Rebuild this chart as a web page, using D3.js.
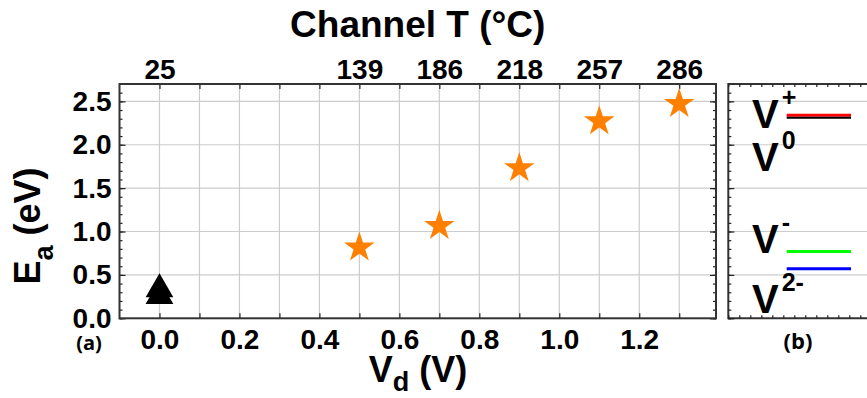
<!DOCTYPE html>
<html>
<head>
<meta charset="utf-8">
<script src="https://cdn.jsdelivr.net/npm/d3@7"></script>
<style>
  body { margin: 0; background: #fff; }
  svg { display: block; font-family: "Liberation Sans", Arial, sans-serif; font-weight: bold; }
</style>
</head>
<body>
<svg id="chart" width="867" height="398"></svg>
<script>
// panel (a): activation energy vs drain voltage
const vd_star = [0.5, 0.7, 0.9, 1.1, 1.3];
const ea_star = [0.815, 1.065, 1.73, 2.27, 2.47];
const vd_tri = [0.0, 0.0];
const ea_tri = [0.335, 0.257];

// top axis: channel temperature at each Vd
const temp_at = [0.0, 0.5, 0.7, 0.9, 1.1, 1.3];
const temp_labels = ['25', '139', '186', '218', '257', '286'];

// panel (b): defect levels
const level_e = [2.34, 2.31, 0.77, 0.57];
const level_color = ['#ff0000', '#000000', '#00ff00', '#0000ff'];
const state_sup = ['+', '0', '-', '2-'];
const state_e = [2.19, 1.70, 0.755, 0.06];

const width = 867, height = 398;
const svg = d3.select('#chart');

const plot = {left: 119.5, right: 716, top: 84, bottom: 318.3};
const panel = {left: 728.3, top: 84, bottom: 318.3};

const x = d3.scaleLinear().domain([-0.1, 1.392]).range([plot.left, plot.right]);
const y = d3.scaleLinear().domain([0, 2.7]).range([plot.bottom, plot.top]);

const grid_color = '#cccccc';
const fmt = d3.format('.1f');
const minor_y = d3.range(0, 27).map(i => i / 10);
const major_y = d3.range(0, 6).map(i => i / 2);
const minor_x = d3.range(0, 14).map(i => i / 10);

// grid
const grid = svg.append('g');
grid.selectAll('line.v')
  .data(minor_x)
  .join('line')
  .attr('x1', d => x(d)).attr('x2', d => x(d))
  .attr('y1', plot.top).attr('y2', plot.bottom)
  .attr('stroke', grid_color).attr('stroke-width', 1.2);
grid.selectAll('line.h')
  .data(major_y.filter(d => d > 0))
  .join('line')
  .attr('x1', plot.left).attr('x2', plot.right)
  .attr('y1', d => y(d)).attr('y2', d => y(d))
  .attr('stroke', grid_color).attr('stroke-width', 1.2);

function styleAxis(g, size){
  g.select('.domain').remove();
  g.selectAll('line').attr('stroke', '#222').attr('stroke-width', 1.2);
  g.selectAll('text')
    .attr('fill', '#000')
    .attr('font-size', size)
    .attr('font-weight', 'bold')
    .attr('font-family', '"Liberation Sans", Arial, sans-serif');
}

// bottom axis
svg.append('g')
  .attr('transform', `translate(0,${plot.bottom})`)
  .call(d3.axisBottom(x).tickValues(minor_x).tickSize(-5).tickPadding(11)
    .tickFormat((d, i) => i % 2 === 0 ? fmt(d) : ''))
  .call(g => styleAxis(g, 28));

// left axis
svg.append('g')
  .attr('transform', `translate(${plot.left},0)`)
  .call(d3.axisLeft(y).tickValues(minor_y).tickSize(-3).tickFormat(''))
  .call(g => styleAxis(g, 28));
svg.append('g')
  .attr('transform', `translate(${plot.left},0)`)
  .call(d3.axisLeft(y).tickValues(major_y).tickSize(-6).tickPadding(8).tickFormat(fmt))
  .call(g => styleAxis(g, 28));

// right axis
svg.append('g')
  .attr('transform', `translate(${plot.right},0)`)
  .call(d3.axisRight(y).tickValues(minor_y).tickSize(-3).tickFormat(''))
  .call(g => styleAxis(g, 28));
svg.append('g')
  .attr('transform', `translate(${plot.right},0)`)
  .call(d3.axisRight(y).tickValues(major_y).tickSize(-6).tickFormat(''))
  .call(g => styleAxis(g, 28));

// top axis
svg.append('g')
  .attr('transform', `translate(0,${plot.top})`)
  .call(d3.axisTop(x).tickValues(minor_x).tickSize(-5).tickFormat(''))
  .call(g => styleAxis(g, 28));
svg.append('g')
  .attr('transform', `translate(0,${plot.top})`)
  .call(d3.axisTop(x).tickValues(temp_at).tickSize(0).tickPadding(5)
    .tickFormat((d, i) => temp_labels[i]))
  .call(g => styleAxis(g, 28));

// frame
svg.append('rect')
  .attr('x', plot.left).attr('y', plot.top)
  .attr('width', plot.right - plot.left).attr('height', plot.bottom - plot.top)
  .attr('fill', 'none').attr('stroke', '#333').attr('stroke-width', 2);

// data
svg.append('g').selectAll('path')
  .data(vd_tri.map((v, i) => [v, ea_tri[i]]))
  .join('path')
  .attr('transform', d => `translate(${x(d[0])},${y(d[1])})`)
  .attr('d', d3.symbol(d3.symbolTriangle, 333))
  .attr('fill', '#000');

svg.append('g').selectAll('path')
  .data(vd_star.map((v, i) => [v, ea_star[i]]))
  .join('path')
  .attr('transform', d => `translate(${x(d[0])},${y(d[1])})`)
  .attr('d', d3.symbol(d3.symbolStar, 290))
  .attr('fill', '#ff8000');

// titles
svg.append('text')
  .attr('x', (plot.left + plot.right) / 2).attr('y', 37)
  .attr('text-anchor', 'middle').attr('font-size', 37)
  .text('Channel T (°C)');

const xt = svg.append('text')
  .attr('x', 418).attr('y', 382)
  .attr('text-anchor', 'middle').attr('font-size', 36);
xt.append('tspan').text('V');
xt.append('tspan').attr('font-size', 27).attr('dy', 9).text('d');
xt.append('tspan').attr('dy', -9).text(' (V)');

const yt = svg.append('text')
  .attr('transform', 'translate(40,226) rotate(-90)')
  .attr('text-anchor', 'middle').attr('font-size', 36);
yt.append('tspan').text('E');
yt.append('tspan').attr('font-size', 27).attr('dy', 13).text('a');
yt.append('tspan').attr('dy', -13).text(' (eV)');

svg.append('text')
  .attr('x', 89).attr('y', 350)
  .attr('text-anchor', 'middle').attr('font-size', 20)
  .attr('font-weight', 'bold')
  .attr('font-family', '"Open Sans", Lato, sans-serif')
  .text('(a)');

svg.append('text')
  .attr('x', 798).attr('y', 349)
  .attr('text-anchor', 'middle').attr('font-size', 22)
  .attr('font-weight', 'bold')
  .attr('font-family', '"Open Sans", Lato, sans-serif')
  .text('(b)');

// panel (b)
const px = d3.scaleLinear().domain([0, 15]).range([panel.left, panel.left + 165]);
const pticks = d3.range(0, 13);
const pb = svg.append('g');

pb.selectAll('line.h')
  .data(major_y.filter(d => d > 0))
  .join('line')
  .attr('x1', panel.left).attr('x2', width)
  .attr('y1', d => y(d)).attr('y2', d => y(d))
  .attr('stroke', grid_color).attr('stroke-width', 1.2);

svg.append('g')
  .attr('transform', `translate(${panel.left},0)`)
  .call(d3.axisLeft(y).tickValues(minor_y).tickSize(-3).tickFormat(''))
  .call(g => styleAxis(g, 28));
svg.append('g')
  .attr('transform', `translate(${panel.left},0)`)
  .call(d3.axisLeft(y).tickValues(major_y).tickSize(-6).tickFormat(''))
  .call(g => styleAxis(g, 28));
svg.append('g')
  .attr('transform', `translate(0,${panel.top})`)
  .call(d3.axisTop(px).tickValues(pticks).tickSize(-3).tickFormat(''))
  .call(g => styleAxis(g, 28));
svg.append('g')
  .attr('transform', `translate(0,${panel.bottom})`)
  .call(d3.axisBottom(px).tickValues(pticks).tickSize(-3).tickFormat(''))
  .call(g => styleAxis(g, 28));

pb.append('path')
  .attr('d', `M${width + 5},${panel.top}H${panel.left}V${panel.bottom}H${width + 5}`)
  .attr('fill', 'none').attr('stroke', '#333').attr('stroke-width', 2);

pb.selectAll('line.level')
  .data(level_e)
  .join('line')
  .attr('x1', 786.7).attr('x2', 851)
  .attr('y1', d => y(d)).attr('y2', d => y(d))
  .attr('stroke', (d, i) => level_color[i])
  .attr('stroke-width', (d, i) => i === 1 ? 2 : 3);

const lab = pb.selectAll('text.state')
  .data(state_sup)
  .join('text')
  .attr('x', 752)
  .attr('y', (d, i) => y(state_e[i]))
  .attr('font-size', 40);
lab.append('tspan').text('V');
lab.append('tspan').attr('font-size', 25).attr('dx', 3).attr('dy', -22).text(d => d);
</script>
</body>
</html>
